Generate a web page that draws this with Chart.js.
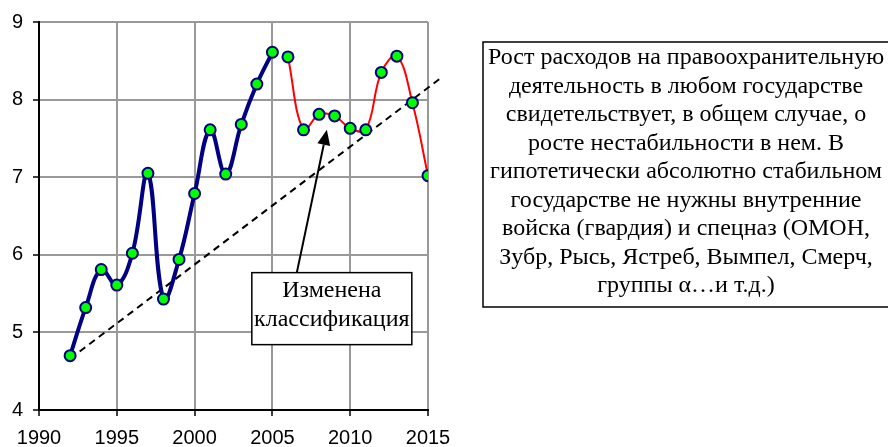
<!DOCTYPE html>
<html>
<head>
<meta charset="utf-8">
<script src="https://cdn.jsdelivr.net/npm/chart.js@4/dist/chart.umd.min.js"></script>
<style>
  html, body { margin: 0; padding: 0; background: #fff; overflow: hidden; }
  #wrap { width: 888px; height: 447px; position: relative; }
</style>
</head>
<body>
<div id="wrap"><canvas id="c"></canvas></div>
<script>
// Law-enforcement spending index, by year
const yearsBefore = [1992, 1993, 1994, 1995, 1996, 1997, 1998, 1999, 2000, 2001, 2002, 2003, 2004, 2005];
const valuesBefore = [4.70, 5.32, 5.81, 5.61, 6.02, 7.05, 5.43, 5.94, 6.79, 7.61, 7.04, 7.68, 8.20, 8.61];

// After the classification change
const yearsAfter = [2006, 2007, 2008, 2009, 2010, 2011, 2012, 2013, 2014, 2015];
const valuesAfter = [8.55, 7.61, 7.81, 7.79, 7.63, 7.61, 8.35, 8.56, 7.96, 7.02];

// Straight trend line, two end points
const trendYears = [1992, 2015.9];
const trendValues = [4.66, 8.29];

const xTickValues = [1990, 1995, 2000, 2005, 2010, 2015];
const yTickValues = [4, 5, 6, 7, 8, 9];

const noteLines = ['Изменена', 'классификация'];
const commentLines = [
  'Рост расходов на правоохранительную',
  'деятельность в любом государстве',
  'свидетельствует, в общем случае, о',
  'росте нестабильности в нем. В',
  'гипотетически абсолютно стабильном',
  'государстве не нужны внутренние',
  'войска (гвардия) и спецназ (ОМОН,',
  'Зубр, Рысь, Ястреб, Вымпел, Смерч,',
  'группы α…и т.д.)'
];

// Arrow from the note box to the 2008 dip (tail / tip in data units)
const arrowTail = { year: 2006.57, value: 5.77 };
const arrowTip = { year: 2008.5, value: 7.61 };

const SERIF = '"Liberation Serif", "Times New Roman", serif';
const SANS = '"Liberation Sans", Arial, sans-serif';

const toPoints = (xs, ys) => xs.map((x, i) => ({ x: x, y: ys[i] }));

const annotations = {
  id: 'annotations',
  afterDatasetsDraw(chart) {
    const { ctx, scales: { x, y } } = chart;
    const tx = x.getPixelForValue(arrowTail.year), ty = y.getPixelForValue(arrowTail.value);
    const hx = x.getPixelForValue(arrowTip.year), hy = y.getPixelForValue(arrowTip.value);
    ctx.save();
    // arrow shaft + head
    const ang = Math.atan2(hy - ty, hx - tx);
    const headLen = 15, headHalf = 6.5;
    const bx = hx - headLen * Math.cos(ang), by = hy - headLen * Math.sin(ang);
    ctx.strokeStyle = '#000';
    ctx.lineWidth = 2;
    ctx.beginPath();
    ctx.moveTo(tx, ty);
    ctx.lineTo(bx, by);
    ctx.stroke();
    ctx.fillStyle = '#000';
    ctx.beginPath();
    ctx.moveTo(hx, hy);
    ctx.lineTo(bx + headHalf * Math.sin(ang), by - headHalf * Math.cos(ang));
    ctx.lineTo(bx - headHalf * Math.sin(ang), by + headHalf * Math.cos(ang));
    ctx.closePath();
    ctx.fill();

    // note box below the arrow tail
    const boxL = tx - 45, boxR = tx + 115, boxT = ty, boxB = ty + 72;
    ctx.fillStyle = '#fff';
    ctx.fillRect(boxL, boxT, boxR - boxL, boxB - boxT);
    ctx.strokeStyle = '#000';
    ctx.lineWidth = 1.5;
    ctx.strokeRect(boxL, boxT, boxR - boxL, boxB - boxT);
    ctx.fillStyle = '#000';
    ctx.font = '24px ' + SERIF;
    ctx.textAlign = 'center';
    ctx.textBaseline = 'alphabetic';
    const cx = (boxL + boxR) / 2;
    noteLines.forEach((t, i) => ctx.fillText(t, cx, boxT + 24 + i * 29));
    ctx.restore();
  },
  afterDraw(chart) {
    const { ctx, chartArea } = chart;
    ctx.save();
    const left = chartArea.right + 55, top = 42, bottom = 307;
    ctx.strokeStyle = '#000';
    ctx.lineWidth = 1.5;
    ctx.strokeRect(left, top, 900 - left, bottom - top);
    ctx.fillStyle = '#000';
    ctx.font = '24px ' + SERIF;
    ctx.textAlign = 'center';
    ctx.textBaseline = 'alphabetic';
    commentLines.forEach((t, i) => ctx.fillText(t, 686, 64 + i * 28.5));
    ctx.restore();
  }
};

const markerStyle = {
  pointRadius: 5.5,
  pointHoverRadius: 5.5,
  pointBackgroundColor: '#00ff00',
  pointBorderColor: '#000080',
  pointBorderWidth: 2
};

new Chart(document.getElementById('c'), {
  type: 'line',
  data: {
    datasets: [
      Object.assign({
        data: toPoints(yearsBefore, valuesBefore),
        borderColor: '#000080',
        borderWidth: 4,
        tension: 0.4
      }, markerStyle),
      Object.assign({
        data: toPoints(yearsAfter, valuesAfter),
        borderColor: '#ff0000',
        borderWidth: 2,
        tension: 0.4
      }, markerStyle),
      {
        data: toPoints(trendYears, trendValues),
        borderColor: '#000',
        borderWidth: 2,
        borderDash: [7, 5],
        pointRadius: 0,
        tension: 0,
        clip: false
      }
    ]
  },
  options: {
    responsive: true,
    maintainAspectRatio: false,
    animation: false,
    events: [],
    layout: { padding: { left: 0, top: 20, right: 460, bottom: 0 } },
    plugins: { legend: { display: false }, tooltip: { enabled: false } },
    scales: {
      x: {
        type: 'linear',
        min: 1990,
        max: 2015,
        afterFit: s => { s.height = 37; },
        afterBuildTicks: s => { s.ticks = xTickValues.map(v => ({ value: v })); },
        grid: { color: '#999', lineWidth: 2, tickColor: '#000', tickWidth: 1.5, tickLength: 6 },
        border: { color: '#000', width: 2 },
        ticks: {
          color: '#000', font: { family: SANS, size: 20 }, padding: 10, maxRotation: 0, autoSkip: false,
          callback: v => String(v)
        }
      },
      y: {
        min: 4,
        max: 9,
        afterFit: s => { s.width = 39; },
        afterBuildTicks: s => { s.ticks = yTickValues.map(v => ({ value: v })); },
        grid: { color: '#999', lineWidth: 2, tickColor: '#000', tickWidth: 1.5, tickLength: 6 },
        border: { color: '#000', width: 2 },
        ticks: { color: '#000', font: { family: SANS, size: 20 }, padding: 10, callback: v => String(v) }
      }
    }
  },
  plugins: [annotations]
});
</script>
</body>
</html>
